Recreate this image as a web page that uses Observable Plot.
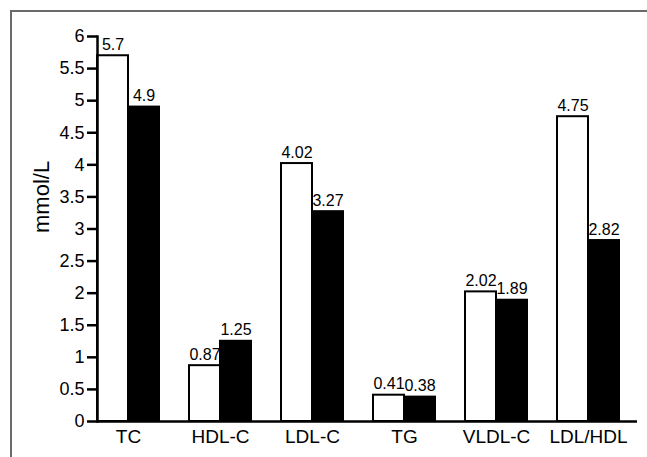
<!DOCTYPE html>
<html>
<head>
<meta charset="utf-8">
<script src="https://cdn.jsdelivr.net/npm/d3@7"></script>
<script src="https://cdn.jsdelivr.net/npm/@observablehq/plot@0.6"></script>
<style>
  html, body { margin: 0; padding: 0; background: #fff; }
  #wrap { position: relative; width: 647px; height: 457px; overflow: hidden; }
  #border { position: absolute; left: 10px; top: 10px; right: -5px; bottom: -5px;
            border-top: 2px solid #6a6a6a; border-left: 2px solid #6a6a6a; pointer-events: none; }
</style>
</head>
<body>
<div id="wrap"><div id="border"></div></div>
<script>
const categories = ["TC", "HDL-C", "LDL-C", "TG", "VLDL-C", "LDL/HDL"];
const seriesWhite = [5.7, 0.87, 4.02, 0.41, 2.02, 4.75];
const seriesBlack = [4.9, 1.25, 3.27, 0.38, 1.89, 2.82];
const yTicks = [0, 0.5, 1, 1.5, 2, 2.5, 3, 3.5, 4, 4.5, 5, 5.5, 6];
const yLabel = "mmol/L";

const rows = categories.map((c, i) => ({category: c, white: seriesWhite[i], black: seriesBlack[i]}));

const half = 31;
const chart = Plot.plot({
  width: 647,
  height: 457,
  marginTop: 36,
  marginBottom: 36,
  marginLeft: 97,
  marginRight: 10,
  style: {fontFamily: "'Liberation Sans', Arial, sans-serif", background: "transparent", color: "#000"},
  x: {domain: categories, paddingInner: 0.33, paddingOuter: 0.084, align: 0, label: null},
  y: {domain: [0, 6], label: null},
  marks: [
    Plot.barY(rows, {x: "category", y: "white", fill: "white", stroke: "black", strokeWidth: 2, insetRight: half}),
    Plot.barY(rows, {x: "category", y: "black", fill: "black", stroke: "black", strokeWidth: 2, insetLeft: half}),
    Plot.text(rows, {x: "category", y: "white", text: d => String(d.white), dx: -half / 2, dy: -6, lineAnchor: "bottom", fontSize: 16}),
    Plot.text(rows, {x: "category", y: "black", text: d => String(d.black), dx: half / 2, dy: -6, lineAnchor: "bottom", fontSize: 16}),
    Plot.ruleY([0], {strokeWidth: 2.5}),
    Plot.frame({anchor: "left", strokeWidth: 2.5}),
    Plot.axisY({ticks: yTicks, tickFormat: d => String(d), tickSize: 10, strokeWidth: 2.5, fontSize: 18, tickPadding: 3, label: null}),
    Plot.axisX({tickSize: 0, fontSize: 19, tickPadding: 8, label: null}),
    Plot.text([yLabel], {text: d => d, frameAnchor: "left", rotate: -90, dx: -56, dy: 4, fontSize: 22})
  ]
});
document.getElementById("wrap").appendChild(chart);
</script>
</body>
</html>
